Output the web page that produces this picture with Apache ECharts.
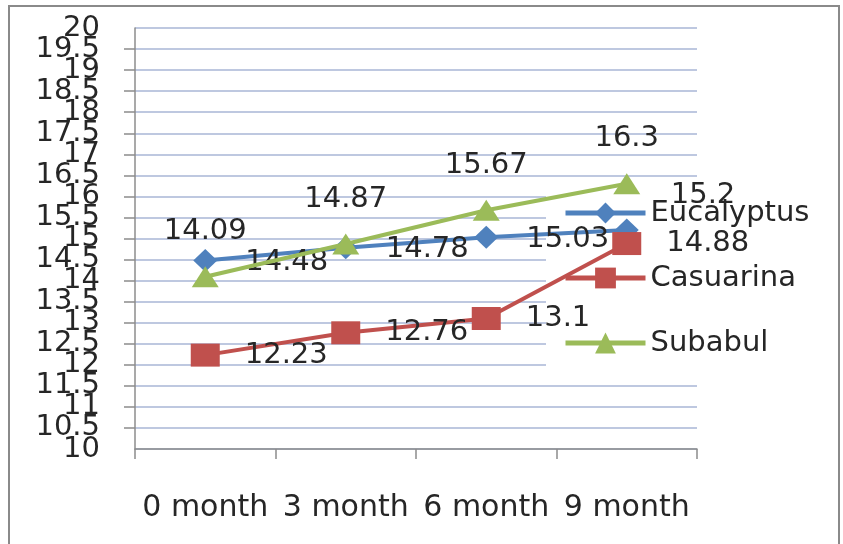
<!DOCTYPE html>
<html>
<head>
<meta charset="utf-8">
<script src="https://cdn.jsdelivr.net/npm/echarts@6/dist/echarts.min.js"></script>
<style>
  html, body { margin: 0; padding: 0; background: #ffffff; }
  #chart { width: 843px; height: 544px; }
</style>
</head>
<body>
<div id="chart"></div>
<script>
// Tree height over time for three species
const categories = ['0 month', '3 month', '6 month', '9 month'];
const eucalyptus = [14.48, 14.78, 15.03, 15.2];
const casuarina = [12.23, 12.76, 13.1, 14.88];
const subabul = [14.09, 14.87, 15.67, 16.3];
const yMin = 10;
const yMax = 20;
const yStep = 0.5;

const FONT = 'DejaVu Sans';
const TEXT = '#262626';
const COLORS = { eucalyptus: '#4F81BD', casuarina: '#C0504D', subabul: '#9BBB59' };

const chart = echarts.init(document.getElementById('chart'), null, { renderer: 'canvas' });

const labelBase = { show: true, color: TEXT, fontFamily: FONT, fontSize: 29 };
const yLabelFont = { color: TEXT, fontFamily: FONT, fontSize: 29, margin: 35, hideOverlap: false };

// Eucalyptus labels sit to the right, the last one lifted above the crowd
const eucData = eucalyptus.map((v, i) => i === 3
  ? { value: v, label: { offset: [4, -35] } }
  : { value: v, label: { offset: [0, 2] } });

chart.setOption({
  backgroundColor: '#ffffff',
  animation: false,
  grid: { left: 135, right: 146, top: 28, bottom: 95, containLabel: false },
  xAxis: {
    type: 'category',
    data: categories,
    boundaryGap: true,
    axisLine: { show: true, lineStyle: { color: '#8c8c8c', width: 1.5 } },
    axisTick: { show: true, inside: false, interval: 0, length: 10, lineStyle: { color: '#8c8c8c', width: 1.5 } },
    axisLabel: { color: TEXT, fontFamily: FONT, fontSize: 30, margin: 44, interval: 0, hideOverlap: false },
    splitLine: { show: false }
  },
  yAxis: [
    {
      // main value axis: gridlines, ticks and the inner labels
      type: 'value',
      min: yMin,
      max: yMax,
      interval: yStep,
      axisLine: { show: true, lineStyle: { color: '#8c8c8c', width: 1.5 } },
      axisTick: { show: true, inside: false, length: 11, lineStyle: { color: '#8c8c8c', width: 1.5 } },
      axisLabel: Object.assign({}, yLabelFont, { showMinLabel: false, showMaxLabel: false }),
      splitLine: { show: true, lineStyle: { color: '#a9b6d6', width: 1.6 } }
    },
    {
      // companion axis carrying only the end labels
      type: 'value',
      position: 'left',
      offset: 0,
      min: yMin,
      max: yMax,
      interval: yStep,
      axisLine: { show: false },
      axisTick: { show: false },
      splitLine: { show: false },
      axisLabel: Object.assign({}, yLabelFont, {
        showMinLabel: true,
        showMaxLabel: true,
        formatter: (v) => (v === yMin || v === yMax) ? String(v) : ''
      })
    }
  ],
  legend: {
    orient: 'vertical',
    left: 563,
    top: 198,
    itemWidth: 80,
    itemHeight: 26,
    itemGap: 35,
    padding: 0,
    lineStyle: { width: 5 },
    textStyle: { color: TEXT, fontFamily: FONT, fontSize: 29, lineHeight: 30 },
    data: ['Eucalyptus', 'Casuarina', 'Subabul']
  },
  graphic: [
    {
      type: 'rect',
      z: 0,
      shape: { x: 9, y: 6, width: 830, height: 560 },
      style: { fill: 'none', stroke: '#8a8a8a', lineWidth: 2 }
    },
    {
      // white legend box over the gridlines
      type: 'rect',
      z: 1,
      shape: { x: 546, y: 186, width: 285, height: 190 },
      style: { fill: '#ffffff' }
    }
  ],
  series: [
    {
      name: 'Eucalyptus',
      type: 'line',
      data: eucData,
      symbol: 'diamond',
      symbolSize: [24, 23],
      color: COLORS.eucalyptus,
      lineStyle: { width: 4, color: COLORS.eucalyptus },
      itemStyle: { color: COLORS.eucalyptus },
      label: Object.assign({}, labelBase, { position: 'right', distance: 28 }),
      z: 3
    },
    {
      name: 'Casuarina',
      type: 'line',
      data: casuarina,
      symbol: 'rect',
      symbolSize: [29, 23],
      color: COLORS.casuarina,
      lineStyle: { width: 4, color: COLORS.casuarina },
      itemStyle: { color: COLORS.casuarina },
      label: Object.assign({}, labelBase, { position: 'right', distance: 25 }),
      z: 4
    },
    {
      name: 'Subabul',
      type: 'line',
      data: subabul,
      symbol: 'triangle',
      symbolSize: [27, 21],
      color: COLORS.subabul,
      lineStyle: { width: 4, color: COLORS.subabul },
      itemStyle: { color: COLORS.subabul },
      label: Object.assign({}, labelBase, { position: 'top', distance: 20 }),
      z: 5
    }
  ]
});
</script>
</body>
</html>
